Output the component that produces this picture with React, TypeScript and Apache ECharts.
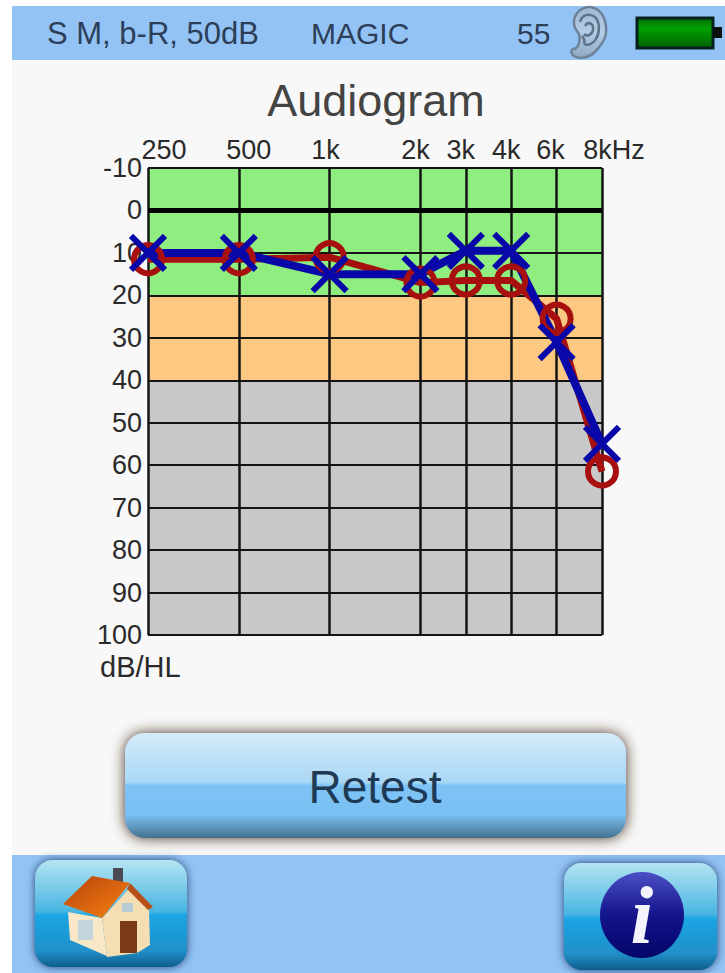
import React, { useEffect, useRef } from "react";
import * as echarts from "echarts";

const axisSlots = ["250", "·1", "500", "·2", "1k", "·3", "2k", "3k", "4k", "6k", "8kHz"];
const frequencies = ["250", "500", "1k", "2k", "3k", "4k", "6k", "8kHz"];
const rightEar = [11.5, 11.5, 11, 17, 16.5, 16.5, 25.5, 61.5];
const leftEar = [10, 10, 15, 15, 9.5, 9.5, 31, 55];
const labelShift: Record<string, number> = { "250": 16, "500": 10, "1k": -4, "2k": -5, "3k": -5, "4k": -5, "6k": -6, "8kHz": 12 };
const levelBands = [
  "#90ee80", "#90ee80", "#90ee80",
  "#fcc882", "#fcc882",
  "#c8c8c8", "#c8c8c8", "#c8c8c8", "#c8c8c8", "#c8c8c8", "#c8c8c8",
];

const FONT = "'Liberation Sans', Arial, sans-serif";
const lg = (stops: [number, string][]) =>
  new echarts.graphic.LinearGradient(0, 0, 0, 1, stops.map(([offset, color]) => ({ offset, color })));

echarts.graphic.registerShape(
  "earOuter",
  echarts.graphic.extendPath(
    "M4 14C6 4 16 -1 24 2C33 5 37 16 36 27C35 36 29 41 25 46C20 51 10 54 4 50C0 47 1 42 5 43C9 40 11 34 9 28C6 24 3 20 4 14Z",
    {}
  )
);
echarts.graphic.registerShape(
  "earInner",
  echarts.graphic.extendPath(
    "M10 16C12 8 20 7 25 11C30 16 30 26 26 33C23 38 18 40 14 38M15 20C18 15 24 17 23 24C22 29 17 31 14 28M12 30C14 32 15 35 14 38",
    {}
  )
);

const headerText = (text: string, x: number, size: number) => ({
  type: "text",
  x,
  y: 33,
  style: { text, fill: "#2c3e58", font: `${size}px ${FONT}`, textVerticalAlign: "middle" },
});

const buttonFill = () => lg([[0, "#b4e4f2"], [0.48, "#48b5e2"], [0.52, "#1ba5e4"], [0.85, "#2190c8"], [1, "#0d5d8c"]]);

const graphics: any[] = [
  { type: "rect", shape: { x: 0, y: 0, width: 12, height: 973 }, style: { fill: "#ffffff" } },
  { type: "rect", shape: { x: 0, y: 0, width: 725, height: 6 }, style: { fill: "#ffffff" } },
  { type: "rect", shape: { x: 12, y: 6, width: 713, height: 54 }, style: { fill: "#93c3f4" } },
  { type: "rect", shape: { x: 12, y: 855, width: 713, height: 118 }, style: { fill: "#93c3f4" } },
  headerText("S M, b-R, 50dB", 47, 31),
  headerText("MAGIC", 311, 30),
  headerText("55", 517, 30),
  { type: "earOuter", x: 570, y: 6, style: { fill: lg([[0, "#9db8d4"], [0.5, "#b4cde6"], [1, "#8fa9c2"]]), stroke: "#6d8299", lineWidth: 2.5 } },
  { type: "earInner", x: 570, y: 6, style: { fill: "none", stroke: "#5f7488", lineWidth: 2.5 } },
  { type: "rect", shape: { x: 637, y: 18, width: 76, height: 30 }, style: { fill: lg([[0, "#006c00"], [0.35, "#00a000"], [1, "#006000"]]), stroke: "#062020", lineWidth: 3 } },
  { type: "rect", shape: { x: 713, y: 27, width: 9, height: 11 }, style: { fill: "#0c1010" } },
  {
    type: "text",
    x: 376,
    y: 100,
    style: { text: "Audiogram", fill: "#444444", font: `45px ${FONT}`, textAlign: "center", textVerticalAlign: "middle" },
  },
  {
    type: "text",
    x: 100,
    y: 667,
    style: { text: "dB/HL", fill: "#2a2a2a", font: `29px ${FONT}`, textVerticalAlign: "middle" },
  },
  {
    type: "rect",
    shape: { x: 125, y: 733, width: 501, height: 105, r: 20 },
    style: {
      fill: lg([[0, "#d4ebf9"], [0.47, "#a9d7f5"], [0.5, "#7dc3f6"], [0.78, "#79c0f3"], [0.97, "#4b7c9c"], [1, "#44708c"]]),
      shadowBlur: 14,
      shadowColor: "rgba(60,40,20,0.95)",
    },
  },
  {
    type: "text",
    x: 375,
    y: 787,
    style: { text: "Retest", fill: "#1f3a55", font: `46px ${FONT}`, textAlign: "center", textVerticalAlign: "middle" },
  },
  {
    type: "rect",
    shape: { x: 35, y: 860, width: 152, height: 107, r: 18 },
    style: { fill: buttonFill(), shadowBlur: 8, shadowColor: "rgba(30,60,110,0.95)" },
  },
  { type: "rect", shape: { x: 113, y: 868, width: 10, height: 14 }, style: { fill: "#4a4a52" } },
  { type: "polygon", shape: { points: [[68, 912], [102, 918], [107, 956], [70, 940]] }, style: { fill: "#f8e8c8" } },
  { type: "polygon", shape: { points: [[102, 918], [130, 888], [149, 910], [150, 945], [137, 953], [107, 957]] }, style: { fill: "#f5ddb4" } },
  { type: "polygon", shape: { points: [[92, 876], [63, 904], [102, 918], [130, 883]] }, style: { fill: new echarts.graphic.LinearGradient(0, 0, 1, 1, [{ offset: 0, color: "#b8400c" }, { offset: 1, color: "#f68410" }]) } },
  { type: "polygon", shape: { points: [[130, 883], [153, 907], [148, 910], [127, 889]] }, style: { fill: "#b8501a" } },
  { type: "rect", shape: { x: 120, y: 921, width: 17, height: 32 }, style: { fill: "#7b3a18" } },
  { type: "rect", shape: { x: 78, y: 920, width: 15, height: 20 }, style: { fill: "#c4d4dc" } },
  { type: "rect", shape: { x: 122, y: 903, width: 11, height: 9 }, style: { fill: "#b8ccd8" } },
  {
    type: "rect",
    shape: { x: 564, y: 863, width: 153, height: 107, r: 18 },
    style: { fill: buttonFill(), shadowBlur: 8, shadowColor: "rgba(30,60,110,0.95)" },
  },
  {
    type: "ellipse",
    shape: { cx: 642, cy: 915, rx: 42, ry: 43 },
    style: { fill: lg([[0, "#4c50c4"], [0.5, "#14148c"], [1, "#04046a"]]) },
  },
  {
    type: "text",
    x: 642,
    y: 915,
    style: { text: "i", fill: "#f4f4ff", font: `italic bold 82px 'Liberation Serif', serif`, textAlign: "center", textVerticalAlign: "middle" },
  },
];

const seriesPoints = (values: number[]) => frequencies.map((f, i) => [f, values[i]]);

export default function App() {
  const ref = useRef<HTMLDivElement>(null);
  useEffect(() => {
    const chart = echarts.init(ref.current!, null, { renderer: "svg" });
    const isMajor = (_: number, v: string) => frequencies.includes(v);
    const rich: Record<string, any> = {};
    frequencies.forEach((f, i) => {
      const s = labelShift[f];
      rich["s" + i] = { padding: s > 0 ? [0, 0, 0, 2 * s] : [0, -2 * s, 0, 0], fontSize: 27, fontFamily: FONT, color: "#2a2a2a" };
    });
    chart.setOption({
      animation: false,
      backgroundColor: "#f8f8f8",
      graphic: { elements: graphics },
      grid: { left: 148, top: 168, width: 454, height: 467, containLabel: false },
      xAxis: {
        type: "category",
        position: "top",
        boundaryGap: false,
        data: axisSlots,
        axisLine: { show: false },
        axisTick: { show: false },
        axisLabel: {
          interval: isMajor,
          margin: 5,
          hideOverlap: false,
          showMinLabel: true,
          showMaxLabel: true,
          formatter: (v: string) => `{s${frequencies.indexOf(v)}|${v}}`,
          rich,
        },
        splitLine: { show: true, interval: isMajor, lineStyle: { color: "#141414", width: 2.5 } },
      },
      yAxis: {
        type: "value",
        inverse: true,
        min: -10,
        max: 100,
        interval: 10,
        axisLine: { show: false },
        axisTick: { show: false },
        axisLabel: { margin: 6, fontSize: 27, fontFamily: FONT, color: "#2a2a2a" },
        splitArea: { show: true, areaStyle: { color: levelBands, opacity: 1 } },
        splitLine: { show: true, lineStyle: { color: "#141414", width: 2 } },
      },
      series: [
        {
          name: "Right",
          type: "line",
          clip: false,
          data: seriesPoints(rightEar),
          symbol: "circle",
          symbolSize: 28,
          lineStyle: { color: "#a81010", width: 7 },
          itemStyle: { color: "transparent", borderColor: "#a81010", borderWidth: 6 },
          markLine: {
            silent: true,
            symbol: "none",
            label: { show: false },
            lineStyle: { color: "#000000", width: 5, type: "solid" },
            data: [{ yAxis: 0 }],
          },
        },
        {
          name: "Left",
          type: "line",
          clip: false,
          data: seriesPoints(leftEar),
          symbol: "path://M0 0L10 10M10 0L0 10",
          symbolSize: 34,
          lineStyle: { color: "#0808a8", width: 8 },
          itemStyle: { color: "transparent", borderColor: "#0808a8", borderWidth: 6 },
        },
      ],
    });
    return () => chart.dispose();
  }, []);
  return <div ref={ref} style={{ position: "absolute", left: 0, top: 0, width: 725, height: 973 }} />;
}
